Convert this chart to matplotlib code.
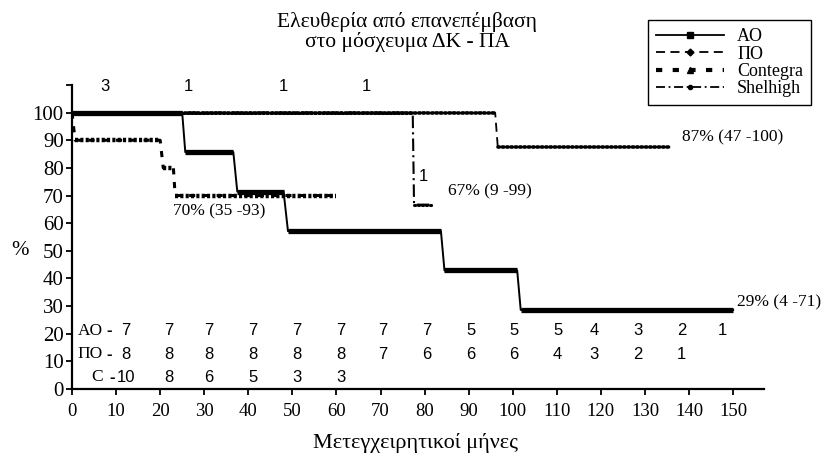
import matplotlib
matplotlib.use("Agg")
import matplotlib.pyplot as plt
from matplotlib.lines import Line2D

SERIF = "Liberation Serif"
SANS = "Liberation Sans"

# Kaplan-Meier style step curves, vertices (months, % free)
ao_x = [0, 25, 25.7, 36.6, 37.5, 48, 49, 83.7, 84.5, 101, 101.8, 150]
ao_y = [100, 100, 85.7, 85.7, 71.4, 71.4, 57.1, 57.1, 42.9, 42.9, 28.6, 28.6]
po_x = [0, 96, 96.6, 136]
po_y = [100, 100, 87.5, 87.5]
con_x = [0, 0.7, 20, 20.7, 23, 23.4, 60]
con_y = [100, 90, 90, 80, 80, 70, 70]
sh_x = [0, 77.3, 77.6, 81.8]
sh_y = [100, 100, 66.7, 66.7]

# numbers at risk under the curves
risk_x = [12.3, 22, 31, 41, 51, 61, 70.5, 80.5, 90.5, 100.2, 110.2, 118.4, 128.4, 138.3, 147.5]
ao_risk = [7, 7, 7, 7, 7, 7, 7, 7, 5, 5, 5, 4, 3, 2, 1]
po_risk = [8, 8, 8, 8, 8, 8, 7, 6, 6, 6, 4, 3, 2, 1]
c_risk = [10, 8, 6, 5, 3, 3]

# event counts along the top
top_x = [7.5, 26.3, 47.9, 66.8]
top_n = ["3", "1", "1", "1"]

fig = plt.figure(figsize=(8.21, 4.58), dpi=100)
ax = fig.add_axes([0.0877, 0.1507, 0.8429, 0.6638])


def draw_curve(x, y, thin_style, thin_lw, plat_style, plat_lw, plat_cap, z):
    ax.plot(x, y, color="black", linestyle=thin_style, linewidth=thin_lw, zorder=z)
    for i in range(len(x) - 1):
        if y[i] == y[i + 1]:
            ax.plot([x[i], x[i + 1]], [y[i], y[i]], color="black",
                    linestyle=plat_style, linewidth=plat_lw,
                    dash_capstyle=plat_cap, solid_capstyle="butt", zorder=z)


draw_curve(sh_x, sh_y, (0, (6, 2, 1, 2)), 1.5, (0, (0.4, 0.9)), 2.2, "round", 2)
draw_curve(con_x, con_y, (0, (2, 2.5)), 2.2, (0, (0.7, 0.5)), 3.2, "butt", 3)
draw_curve(po_x, po_y, (0, (5, 3)), 1.3, (0, (0.4, 0.8)), 2.6, "round", 4)
draw_curve(ao_x, ao_y, "-", 1.4, "-", 3.8, "butt", 5)

ax.set_xlim(0, 157)
ax.set_ylim(0, 110)
ax.set_xticks(range(0, 151, 10))
ax.set_yticks(range(0, 111, 10))
ax.set_yticklabels([str(v) for v in range(0, 101, 10)] + [""])
for lab in ax.get_xticklabels():
    lab.set_fontfamily(SERIF)
    lab.set_fontsize(13.5)
for lab in ax.get_yticklabels():
    lab.set_fontfamily(SERIF)
    lab.set_fontsize(15)
ax.tick_params(direction="out", length=4, width=1.3, pad=2)
ax.tick_params(axis="x", pad=6)
for s in ["top", "right"]:
    ax.spines[s].set_visible(False)
for s in ["left", "bottom"]:
    ax.spines[s].set_linewidth(1.6)

ax.set_ylabel("%", rotation=0, fontfamily=SERIF, fontsize=15, va="center", ha="center")
ax.yaxis.set_label_coords(-0.075, 0.455)
ax.set_xlabel("Μετεγχειρητικοί μήνες", fontfamily=SERIF, fontsize=16, va="center")
ax.xaxis.set_label_coords(0.497, -0.178)

fig.text(0.496, 0.93, "Ελευθερία από επανεπέμβαση\nστο μόσχευμα ΔΚ - ΠΑ",
         ha="center", va="center", fontfamily=SERIF, fontsize=15.5, linespacing=0.95)

# top counts
for x, n in zip(top_x, top_n):
    ax.text(x, 109.5, n, ha="center", va="center", fontfamily=SANS, fontsize=12)

# percentage annotations
ax.text(79.8, 77, "1", ha="center", va="center", fontfamily=SANS, fontsize=12)
ax.text(85.3, 71.5, "67% (9 -99)", ha="left", va="center", fontfamily=SERIF, fontsize=12.5)
ax.text(138.5, 91, "87% (47 -100)", ha="left", va="center", fontfamily=SERIF, fontsize=12.5)
ax.text(150.8, 31.2, "29% (4 -71)", ha="left", va="center", fontfamily=SERIF, fontsize=12.5)
ax.text(22.9, 64.2, "70% (35 -93)", ha="left", va="center", fontfamily=SERIF, fontsize=12.5)

# numbers-at-risk table
rows = [("AO", ao_risk, 21, 7.0, 8.4), ("ΠΟ", po_risk, 12.5, 7.0, 8.4),
        ("C", c_risk, 4.2, 7.0, 9.2)]
for name, vals, yy, xname, xdash in rows:
    ax.text(xname, yy, name, ha="right", va="center", fontfamily=SERIF, fontsize=12.5)
    ax.text(xdash, yy, "-", ha="center", va="center", fontfamily=SANS,
            fontsize=12, fontweight="bold")
    for x, v in zip(risk_x, vals):
        ax.text(x, yy, str(v), ha="center", va="center", fontfamily=SANS, fontsize=12)

handles = [
    Line2D([], [], color="black", linestyle="-", linewidth=1.3, marker="s", markersize=4),
    Line2D([], [], color="black", linestyle=(0, (5, 3)), linewidth=1.3, marker="D", markersize=3.5),
    Line2D([], [], color="black", linestyle=(0, (1.5, 2.5)), linewidth=3, marker="^", markersize=5),
    Line2D([], [], color="black", linestyle=(0, (5, 2, 1, 2)), linewidth=1.3, marker="o", markersize=3),
]
labels = ["AO", "ΠΟ", "Contegra", "Shelhigh"]
leg = fig.legend(handles, labels, loc="upper right", bbox_to_anchor=(0.988, 0.956),
                 bbox_transform=fig.transFigure, numpoints=1, handlelength=3.8,
                 labelspacing=0.02, borderpad=0.45, handletextpad=0.7, borderaxespad=0,
                 fancybox=False, edgecolor="black", framealpha=1,
                 prop={"family": SERIF, "size": 13})
leg.get_frame().set_linewidth(1.0)

fig.savefig("out.png", dpi=100)
